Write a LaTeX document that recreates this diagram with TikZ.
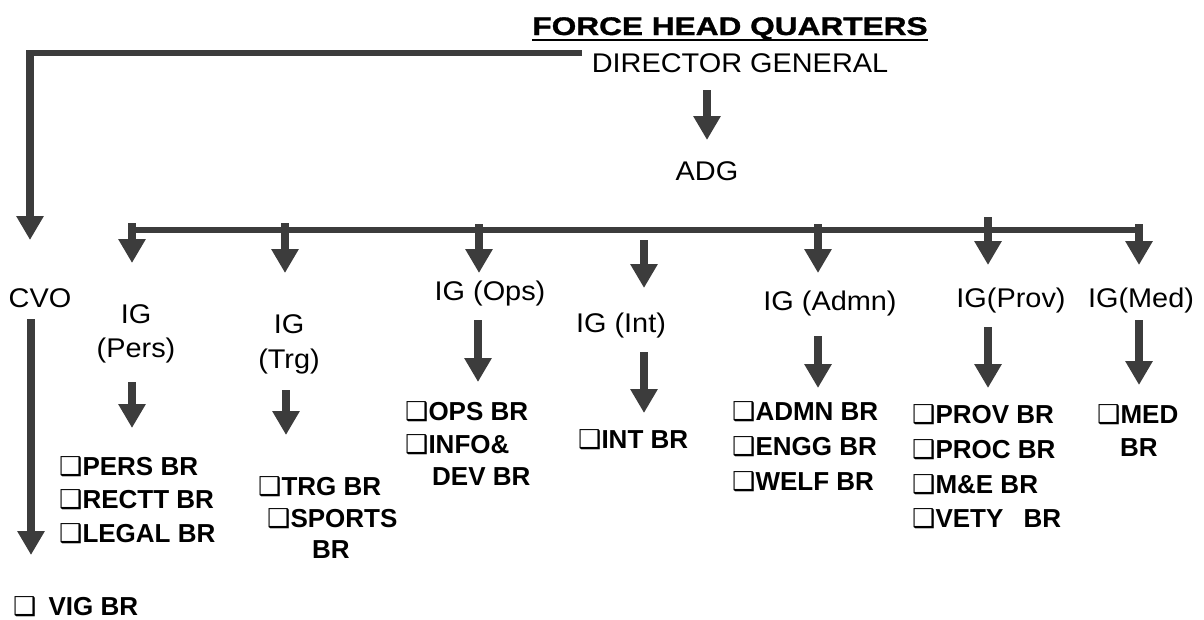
\documentclass[tikz,border=0pt]{standalone}
\usepackage{fontspec}
\setmainfont{Liberation Sans}
\newfontfamily\regf{Liberation Sans}[FakeStretch=1.07]
\newfontfamily\titlef{Liberation Sans}[FakeStretch=1.24,FakeBold=1.2]
\newfontfamily\symf{DejaVu Sans}
\usetikzlibrary{arrows.meta}
\definecolor{ln}{HTML}{3C3C3C}
\newcommand\bx{{\symf ❑}}
\tikzset{
  reg/.style={inner sep=0pt, anchor=base, font=\regf\fontsize{27}{31}\selectfont},
  item/.style={inner sep=0pt, anchor=base west, font=\bfseries\fontsize{26}{31}\selectfont},
  arr/.style={draw=ln, line width=8pt, -{Triangle[length=24pt,width=26pt]}},
  hline/.style={draw=ln, line width=6pt},
}
\begin{document}
\begin{tikzpicture}[x=1pt,y=-1pt]
\useasboundingbox (0,0) rectangle (1204,619);
% top
\node[reg, font=\titlef\bfseries\fontsize{25.5}{30}\selectfont] (title) at (730,35) {FORCE HEAD QUARTERS};
\draw[line width=1.6pt] ([yshift=-5pt]title.base west) -- ([yshift=-5pt]title.base east);
\node[reg] (dg) at (740,72) {DIRECTOR GENERAL};
\node[reg] (adg) at (707,180) {ADG};
\node[reg] (cvo) at (40,307) {CVO};
\node[item] (vig) at (13,615) {\bx\hspace{12pt}VIG BR};
% IG labels
\node[reg] (igpersA) at (136,323) {IG};
\node[reg] (igpersB) at (136,357) {(Pers)};
\node[reg] (igtrgA) at (289,333) {IG};
\node[reg] (igtrgB) at (289,368) {(Trg)};
\node[reg] (igops) at (490,300) {IG (Ops)};
\node[reg] (igint) at (621,332) {IG (Int)};
\node[reg] (igadmn) at (830,310) {IG (Admn)};
\node[reg] (igprov) at (1011,307) {IG(Prov)};
\node[reg] (igmed) at (1141,307) {IG(Med)};
% branches
\node[item] (pers1) at (59,475) {\bx PERS BR};
\node[item] (pers2) at (59,508.5) {\bx RECTT BR};
\node[item] (pers3) at (59,542) {\bx LEGAL BR};
\node[item] (trg1) at (258,495) {\bx TRG BR};
\node[item] (trg2) at (267,527) {\bx SPORTS};
\node[item] (trg3) at (312,558) {BR};
\node[item] (ops1) at (405,420) {\bx OPS BR};
\node[item] (ops2) at (405,453) {\bx INFO\&};
\node[item] (ops3) at (432,485) {DEV BR};
\node[item] (int1) at (578,448) {\bx INT BR};
\node[item] (adm1) at (732,420) {\bx ADMN BR};
\node[item] (adm2) at (732,455) {\bx ENGG BR};
\node[item] (adm3) at (732,490) {\bx WELF BR};
\node[item] (prv1) at (912,423) {\bx PROV BR};
\node[item] (prv2) at (912,458) {\bx PROC BR};
\node[item] (prv3) at (912,493) {\bx M\&E BR};
\node[item] (prv4) at (912,527) {\bx VETY\hspace{0.5em} BR};
\node[item] (med1) at (1097,423) {\bx MED};
\node[item] (med2) at (1120,456) {BR};
% connector coordinates
\coordinate (dgl) at (582,53);
\coordinate (crn) at (30,53);
\coordinate (crnv) at (30,50);
\coordinate (cvoT) at (30,240);
\coordinate (adgA) at (707,90);
\coordinate (adgB) at (707,140);
\coordinate (busL) at (128,230);
\coordinate (busR) at (1143,230);
% DG to CVO
\draw[hline] (dgl) -- (crn);
\draw[arr] (crnv) -- (cvoT);
\draw[arr] (adgA) -- (adgB);
% bus
\draw[hline] (busL) -- (busR);
\foreach \n/\x/\a/\b in {p/132/223/263, t/285/223/273, o/479/224/273, ad/818/224/273, pv/988/217/265, m/1139/224/265, i/644/240/288}{
  \coordinate (s\n) at (\x,\a);
  \coordinate (e\n) at (\x,\b);
  \draw[arr] (s\n) -- (e\n);
}
% IG to branches
\foreach \n/\x/\a/\b in {p/132/382/428, t/286/390/435, o/478/320/382, i/644/352/413, ad/818/336/388, pv/988/327/388, m/1139/320/385, c/31/319/555}{
  \coordinate (u\n) at (\x,\a);
  \coordinate (v\n) at (\x,\b);
  \draw[arr] (u\n) -- (v\n);
}
\end{tikzpicture}
\end{document}
